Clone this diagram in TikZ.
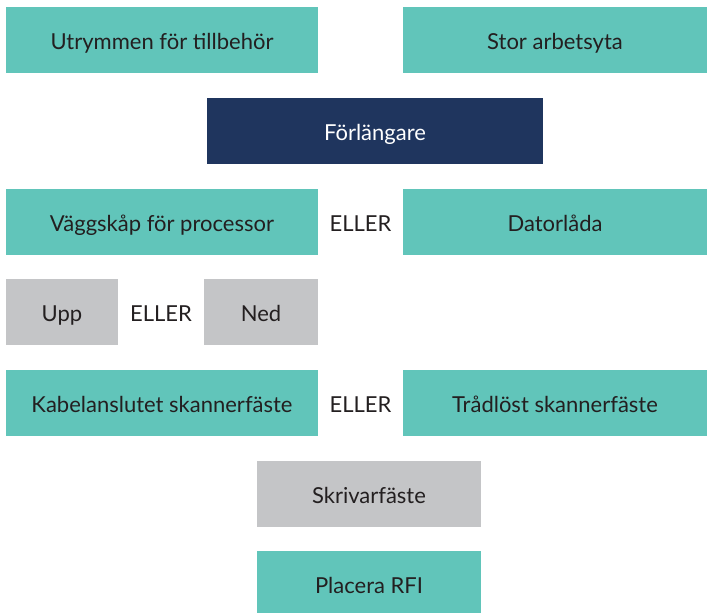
\documentclass[tikz,border=0pt]{standalone}
\usepackage{fontspec}
\setmainfont{Lato}
\usepackage{tikz}

\definecolor{tealbox}{RGB}{97,197,186}
\definecolor{navybox}{RGB}{31,53,94}
\definecolor{greybox}{RGB}{196,197,199}
\definecolor{textdark}{RGB}{35,31,32}

\tikzset{
  boxtext/.style={inner sep=0pt, text height=19pt, text depth=0pt, font=\fontsize{22}{26}\selectfont},
  optbox/.style={boxtext, fill=tealbox, text=textdark, minimum height=66pt},
  mainbox/.style={boxtext, fill=navybox, text=white, minimum height=66pt},
  dirbox/.style={boxtext, fill=greybox, text=textdark, minimum height=66pt},
  orlabel/.style={boxtext, text=textdark}
}

\begin{document}
\begin{tikzpicture}[x=1pt,y=1pt,yscale=-1,xscale=1]
\useasboundingbox (0,0) rectangle (707,613);

% Row 1
\node [optbox, minimum width=312pt] (utrymme) at (162,40) {Utrymmen för tillbehör};
\node [optbox, minimum width=304pt] (arbetsyta) at (555,40) {Stor arbetsyta};
% Row 2
\node [mainbox, minimum width=336pt] (forlangare) at (375,131) {Förlängare};
% Row 3
\node [optbox, minimum width=312pt] (vaggskap) at (162,221.5) {Väggskåp för processor};
\node [orlabel] (eller1) at (360.5,221.5) {ELLER};
\node [optbox, minimum width=304pt] (datorlada) at (555,221.5) {Datorlåda};
% Row 4
\node [dirbox, minimum width=112pt] (upp) at (62,312) {Upp};
\node [orlabel] (eller2) at (161,312) {ELLER};
\node [dirbox, minimum width=114pt] (ned) at (261,312) {Ned};
% Row 5
\node [optbox, minimum width=312pt] (kabel) at (162,403) {Kabelanslutet skannerfäste};
\node [orlabel] (eller3) at (360.5,403) {ELLER};
\node [optbox, minimum width=304pt] (tradlos) at (555,403) {Trådlöst skannerfäste};
% Row 6
\node [dirbox, minimum width=224pt] (skrivare) at (369,494) {Skrivarfäste};
% Row 7
\node [optbox, minimum width=224pt] (rfi) at (369,584) {Placera RFI};

\end{tikzpicture}
\end{document}
